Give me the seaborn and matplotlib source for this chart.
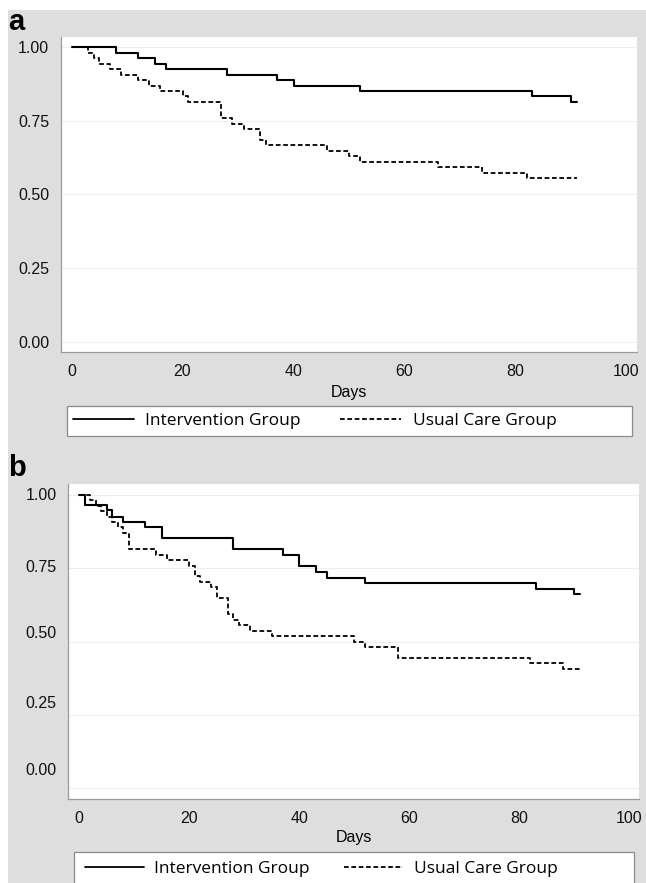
import matplotlib
matplotlib.use("Agg")
import matplotlib.pyplot as plt
import matplotlib.transforms as mtransforms
from matplotlib.patches import Rectangle
import pandas as pd
import seaborn as sns

# ---------------- data ----------------
# Panel a
a_int_days = [0, 8, 12, 15, 17, 28, 37, 40, 52, 83, 90, 91]
a_int_surv = [1.000, 0.981, 0.963, 0.944, 0.926, 0.907, 0.889, 0.870, 0.852, 0.833, 0.815, 0.815]
a_uc_days = [0, 3, 4, 5, 7, 9, 12, 14, 16, 20, 21, 27, 29, 31, 34, 35, 46, 50, 52, 66, 74, 82, 91]
a_uc_surv = [1.000, 0.981, 0.963, 0.944, 0.926, 0.907, 0.889, 0.870, 0.852, 0.833, 0.815, 0.759,
             0.741, 0.722, 0.685, 0.667, 0.648, 0.630, 0.611, 0.593, 0.574, 0.556, 0.556]
# Panel b
b_int_days = [0, 1, 5, 6, 8, 12, 15, 28, 37, 40, 43, 45, 52, 83, 90, 91]
b_int_surv = [1.000, 0.964, 0.947, 0.926, 0.909, 0.889, 0.852, 0.814, 0.795, 0.758, 0.736,
              0.718, 0.699, 0.681, 0.661, 0.661]
b_uc_days = [0, 2, 3, 4, 5, 6, 7, 8, 9, 14, 16, 20, 21, 22, 24, 25, 27, 28, 29, 31, 35,
             50, 52, 58, 82, 88, 91]
b_uc_surv = [1.000, 0.981, 0.963, 0.944, 0.926, 0.907, 0.889, 0.870, 0.815, 0.796, 0.778,
             0.759, 0.722, 0.704, 0.685, 0.648, 0.593, 0.574, 0.556, 0.537, 0.519,
             0.500, 0.481, 0.444, 0.426, 0.407, 0.407]

group_labels = ["Intervention Group", "Usual Care Group"]
panel_letters = ["a", "b"]
x_ticks = [0, 20, 40, 60, 80, 100]
y_ticks = [0.0, 0.25, 0.50, 0.75, 1.00]
y_ticklabels = ["0.00", "0.25", "0.50", "0.75", "1.00"]
x_title = "Days"

# ---------------- style ----------------
sns.set_theme(style="white")
plt.rcParams["font.family"] = ["Liberation Sans", "DejaVu Sans"]
plt.rcParams["lines.scale_dashes"] = False
plt.rcParams["text.color"] = "black"

W, H = 646, 883
fig = plt.figure(figsize=(W / 100, H / 100), dpi=100, facecolor="white")

GRAY_BG = "#dedede"
AX_COL = "#9a9a9a"

# gray backdrop
fig.patches.append(Rectangle((8 / W, 0), 1 - 8 / W, 1 - 10 / H, transform=fig.transFigure,
                             facecolor=GRAY_BG, edgecolor="none", zorder=-10))


def px_box(l, t, r, b):
    return [l / W, 1 - b / H, (r - l) / W, (b - t) / H]


panels = [
    dict(box=px_box(61, 36.7, 637, 352.3), xlim=(-1.9, 101.9),
         int_d=a_int_days, int_s=a_int_surv, uc_d=a_uc_days, uc_s=a_uc_surv,
         letter_xy=(8, 30), leg_box=(67, 405.7, 632, 435.5), leg_anchor=(73, 421),
         handlelen=3.5, textpad=0.65, colspace=2.3, labelpad=4,
         lab_off=[0, 0, 0, 0, 0]),
    dict(box=px_box(68.3, 484.3, 639.3, 799), xlim=(-2.0, 101.8),
         int_d=b_int_days, int_s=b_int_surv, uc_d=b_uc_days, uc_s=b_uc_surv,
         letter_xy=(8, 476), leg_box=(74, 851.7, 634, 886), leg_anchor=(84.5, 869),
         handlelen=3.4, textpad=0.6, colspace=2.0, labelpad=3,
         lab_off=[19, 13, 10, 2, 1]),
]

DASH = (0, (3.4, 1.9))

for i, p in enumerate(panels):
    ax = fig.add_axes(p["box"], zorder=1)
    ax.set_facecolor("white")
    df_i = pd.DataFrame({"day": p["int_d"], "surv": p["int_s"]})
    df_u = pd.DataFrame({"day": p["uc_d"], "surv": p["uc_s"]})
    sns.lineplot(data=df_i, x="day", y="surv", ax=ax, color="black", lw=1.5,
                 drawstyle="steps-post", estimator=None, legend=False,
                 label=group_labels[0])
    sns.lineplot(data=df_u, x="day", y="surv", ax=ax, color="black", lw=1.3,
                 linestyle=DASH, drawstyle="steps-post", estimator=None, legend=False,
                 label=group_labels[1])
    if ax.get_legend() is not None:
        ax.get_legend().remove()

    ax.set_xlim(*p["xlim"])
    ax.set_ylim(-0.036, 1.036)
    ax.set_xticks(x_ticks)
    ax.set_yticks(y_ticks)
    ax.set_yticklabels(y_ticklabels)
    ax.set_xlabel(x_title, fontsize=11.5, labelpad=p["labelpad"], color="black")
    ax.set_ylabel("")
    ax.grid(axis="y", color="#efefef", lw=0.8)
    ax.grid(axis="x", visible=False)
    for s in ["top", "right"]:
        ax.spines[s].set_visible(False)
    for s in ["left", "bottom"]:
        ax.spines[s].set_color(AX_COL)
        ax.spines[s].set_linewidth(0.9)
    ax.tick_params(axis="both", direction="out", length=4.5, width=0.8, color=AX_COL,
                   labelsize=11.5, labelcolor="#111111")
    ax.tick_params(axis="x", pad=4)
    ax.tick_params(axis="y", pad=4)

    # label offsets (panel b labels sit above their ticks)
    for lab, off in zip(ax.get_yticklabels(), p["lab_off"]):
        lab.set_transform(lab.get_transform() +
                          mtransforms.ScaledTranslation(0, off / 100, fig.dpi_scale_trans))

    # panel letter
    lx, ly = p["letter_xy"]
    fig.text(lx / W, 1 - ly / H, panel_letters[i], fontsize=21, fontweight="bold",
             ha="left", va="baseline", color="black",
             family=["Liberation Sans", "DejaVu Sans"])

    # legend box
    l, t, r, b = p["leg_box"]
    fig.patches.append(Rectangle((l / W, 1 - b / H), (r - l) / W, (b - t) / H,
                                 transform=fig.transFigure, facecolor="white",
                                 edgecolor="#8a8a8a", lw=0.9, zorder=1))
    handles, labels = ax.get_legend_handles_labels()
    ax_, ay_ = p["leg_anchor"]
    leg = fig.legend(handles, labels, loc="center left",
                     bbox_to_anchor=(ax_ / W, 1 - ay_ / H), ncol=2, frameon=False,
                     borderpad=0, borderaxespad=0, handlelength=p["handlelen"],
                     handletextpad=p["textpad"], columnspacing=p["colspace"],
                     prop={"family": ["Open Sans", "DejaVu Sans"], "size": 12.5})
    leg.set_zorder(2)
    for t_ in leg.get_texts():
        t_.set_color("black")
    for ln in leg.get_lines():
        ln.set_linewidth(1.3)

fig.savefig("out.png", dpi=100, facecolor="white")
